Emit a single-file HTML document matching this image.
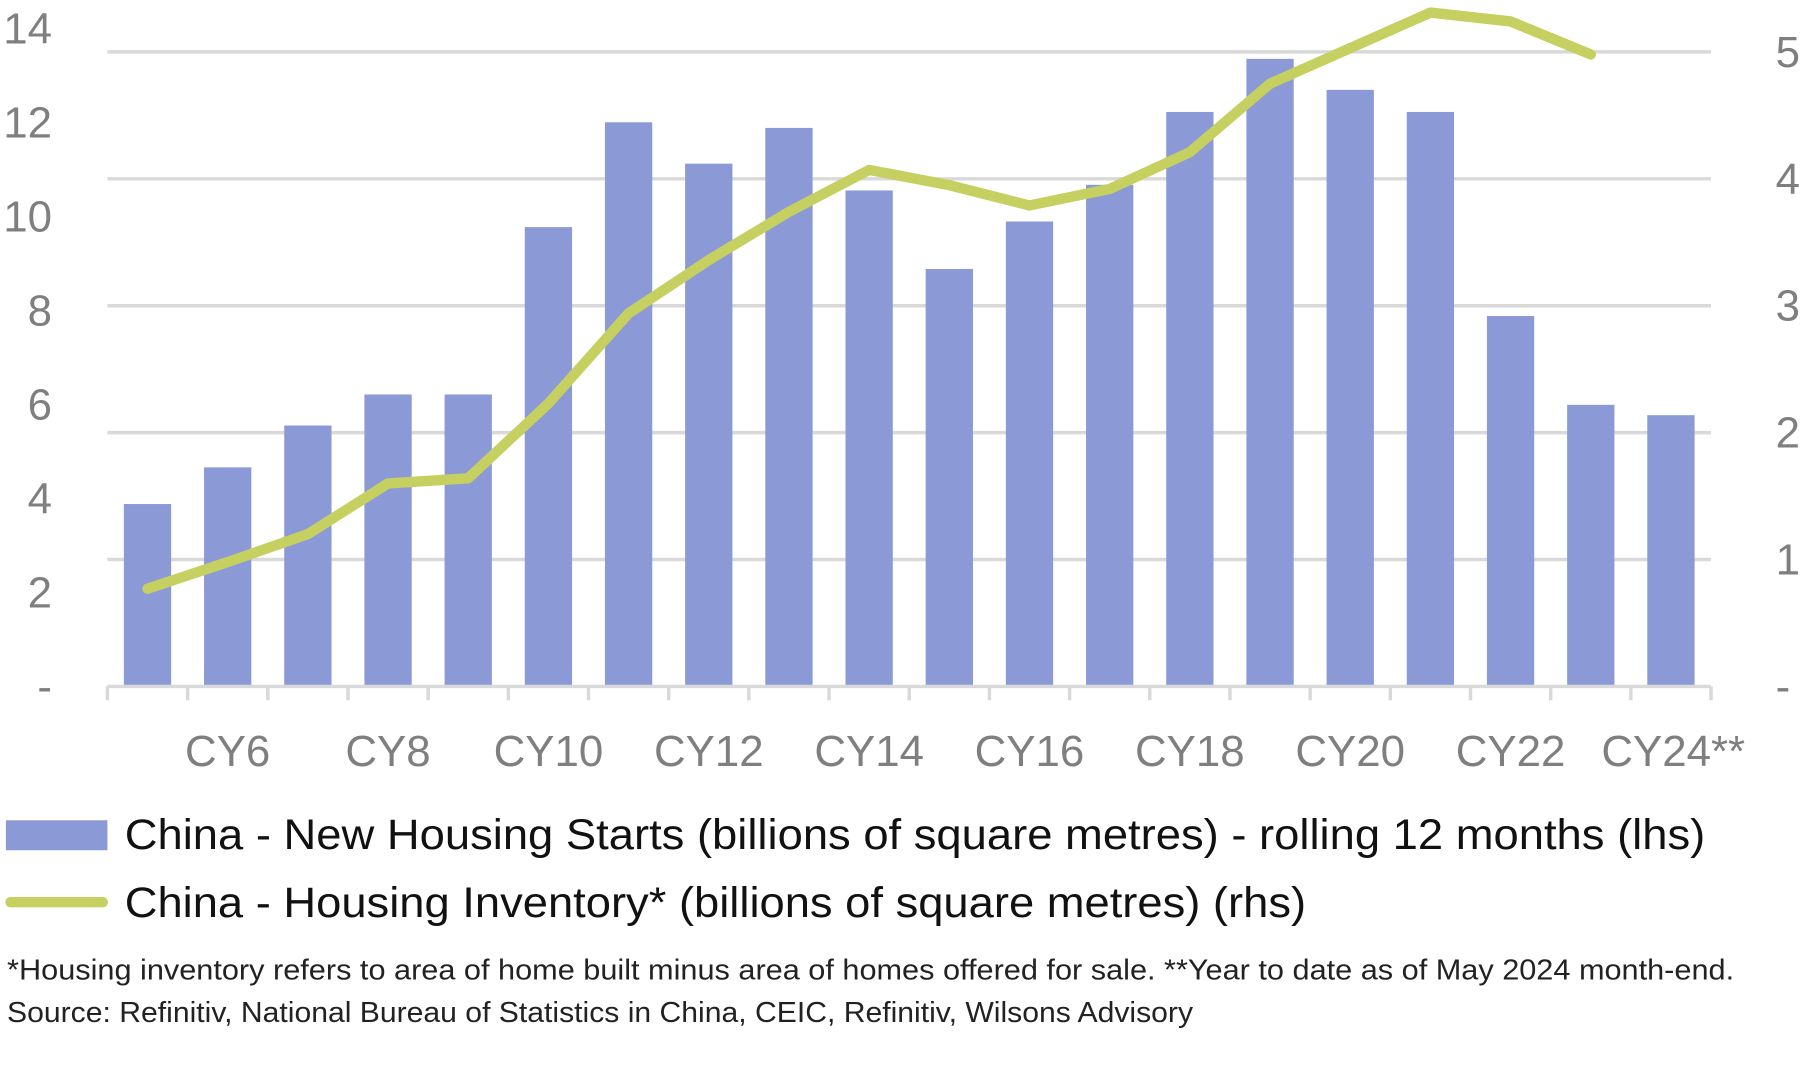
<!DOCTYPE html>
<html><head><meta charset="utf-8"><style>
html,body{margin:0;padding:0;background:#fff;}
svg{display:block;font-family:"Liberation Sans",sans-serif;}
</style></head><body>
<svg id="chart" width="1800" height="1066" viewBox="0 0 1560 924" xmlns="http://www.w3.org/2000/svg"></svg>
<script>
const categories = ["CY5","CY6","CY7","CY8","CY9","CY10","CY11","CY12","CY13","CY14","CY15","CY16","CY17","CY18","CY19","CY20","CY21","CY22","CY23","CY24**"];
const startsValues = [3.88,4.66,5.55,6.21,6.21,9.77,12.0,11.12,11.88,10.55,8.88,9.89,10.67,12.22,13.35,12.69,12.22,7.88,5.99,5.77];
const inventoryValues = [0.77,0.98,1.2,1.6,1.64,2.23,2.94,3.36,3.74,4.07,3.95,3.79,3.92,4.21,4.75,5.03,5.31,5.24,4.98,null];
const leftTicks = ["-","2","4","6","8","10","12","14"];
const leftTickValues = [0,2,4,6,8,10,12,14];
const rightTicks = ["-","1","2","3","4","5"];
const rightTickValues = [0,1,2,3,4,5];

const svg = document.getElementById('chart');
const NS = 'http://www.w3.org/2000/svg';
const X0 = 93, X1 = 1483, BASE = 595;
const step = (X1 - X0) / categories.length;
const xC = i => X0 + step * (i + 0.5);
const yL = v => BASE - v * 40.75;
const yR = v => BASE - v * 110;
function mk(tag, attrs, parent) {
  const e = document.createElementNS(NS, tag);
  for (const k in attrs) e.setAttribute(k, attrs[k]);
  (parent || svg).appendChild(e);
  return e;
}
rightTickValues.forEach((v, i) => {
  if (v === 0) return;
  const g = mk('line', {x1: X0, x2: X1, y1: yR(v), y2: yR(v), stroke: '#d9d9d9', 'stroke-width': 3});
  
  
});
startsValues.forEach((v, i) => {
  const r = mk('rect', {x: xC(i) - 20.5, y: yL(v), width: 41, height: BASE - yL(v), fill: '#8b9ad6'});
  
  
});
const ax = mk('line', {x1: X0, x2: X1, y1: BASE, y2: BASE, stroke: '#d9d9d9', 'stroke-width': 3});


for (let i = 0; i <= categories.length; i++) {
  const t = mk('line', {x1: X0 + step * i, x2: X0 + step * i, y1: BASE, y2: BASE + 12, stroke: '#d9d9d9', 'stroke-width': 3});
  
  
}
categories.forEach((c, i) => {
  if (i % 2 === 0) return;
  const t = mk('text', {x: xC(i) + (i === categories.length - 1 ? 2 : 0), y: 664, 'text-anchor': 'middle', 'font-size': 38, fill: '#7f7f7f'});
  t.textContent = c;
  
  
});
leftTicks.forEach((l, i) => {
  const t = mk('text', {x: 45, y: yL(leftTickValues[i]) + 13, 'text-anchor': 'end', 'font-size': 38, fill: '#7f7f7f'});
  t.textContent = l;
  
  
});
rightTicks.forEach((l, i) => {
  const t = mk('text', {x: 1539, y: yR(rightTickValues[i]) + 13, 'font-size': 38, fill: '#7f7f7f'});
  t.textContent = l;
  
  
});
let d = '';
inventoryValues.forEach((v, i) => {
  if (v === null) return;
  d += (d ? 'L' : 'M') + xC(i) + ' ' + yR(v) + ' ';
});
const ln = mk('path', {d: d, fill: 'none', stroke: '#c5d060', 'stroke-width': 9, 'stroke-linecap': 'round', 'stroke-linejoin': 'round'});


</script>
<script>
(function(){
const svg = document.getElementById('chart');
const NS = 'http://www.w3.org/2000/svg';
function mk(tag, attrs) {
  const e = document.createElementNS(NS, tag);
  for (const k in attrs) e.setAttribute(k, attrs[k]);
  svg.appendChild(e);
  return e;
}
const r = mk('rect', {x: 5, y: 711, width: 88, height: 26, fill: '#8b9ad6'});


const t1 = mk('text', {x: 108, y: 736, 'font-size': 37, fill: '#111', textLength: 1370, lengthAdjust: 'spacingAndGlyphs'});
t1.textContent = 'China - New Housing Starts (billions of square metres) - rolling 12 months (lhs)';


const l = mk('line', {x1: 9, x2: 89, y1: 782, y2: 782, stroke: '#c5d060', 'stroke-width': 9, 'stroke-linecap': 'round'});


const t2 = mk('text', {x: 108, y: 795, 'font-size': 37, fill: '#111', textLength: 1024, lengthAdjust: 'spacingAndGlyphs'});
t2.textContent = 'China - Housing Inventory* (billions of square metres) (rhs)';


const f1 = mk('text', {x: 6, y: 849, 'font-size': 25, fill: '#222', textLength: 1497, lengthAdjust: 'spacingAndGlyphs'});
f1.textContent = '*Housing inventory refers to area of home built minus area of homes offered for sale. **Year to date as of May 2024 month-end.';


const f2 = mk('text', {x: 6, y: 886, 'font-size': 25, fill: '#222', textLength: 1028, lengthAdjust: 'spacingAndGlyphs'});
f2.textContent = 'Source: Refinitiv, National Bureau of Statistics in China, CEIC, Refinitiv, Wilsons Advisory';


})();
</script>
</body></html>
